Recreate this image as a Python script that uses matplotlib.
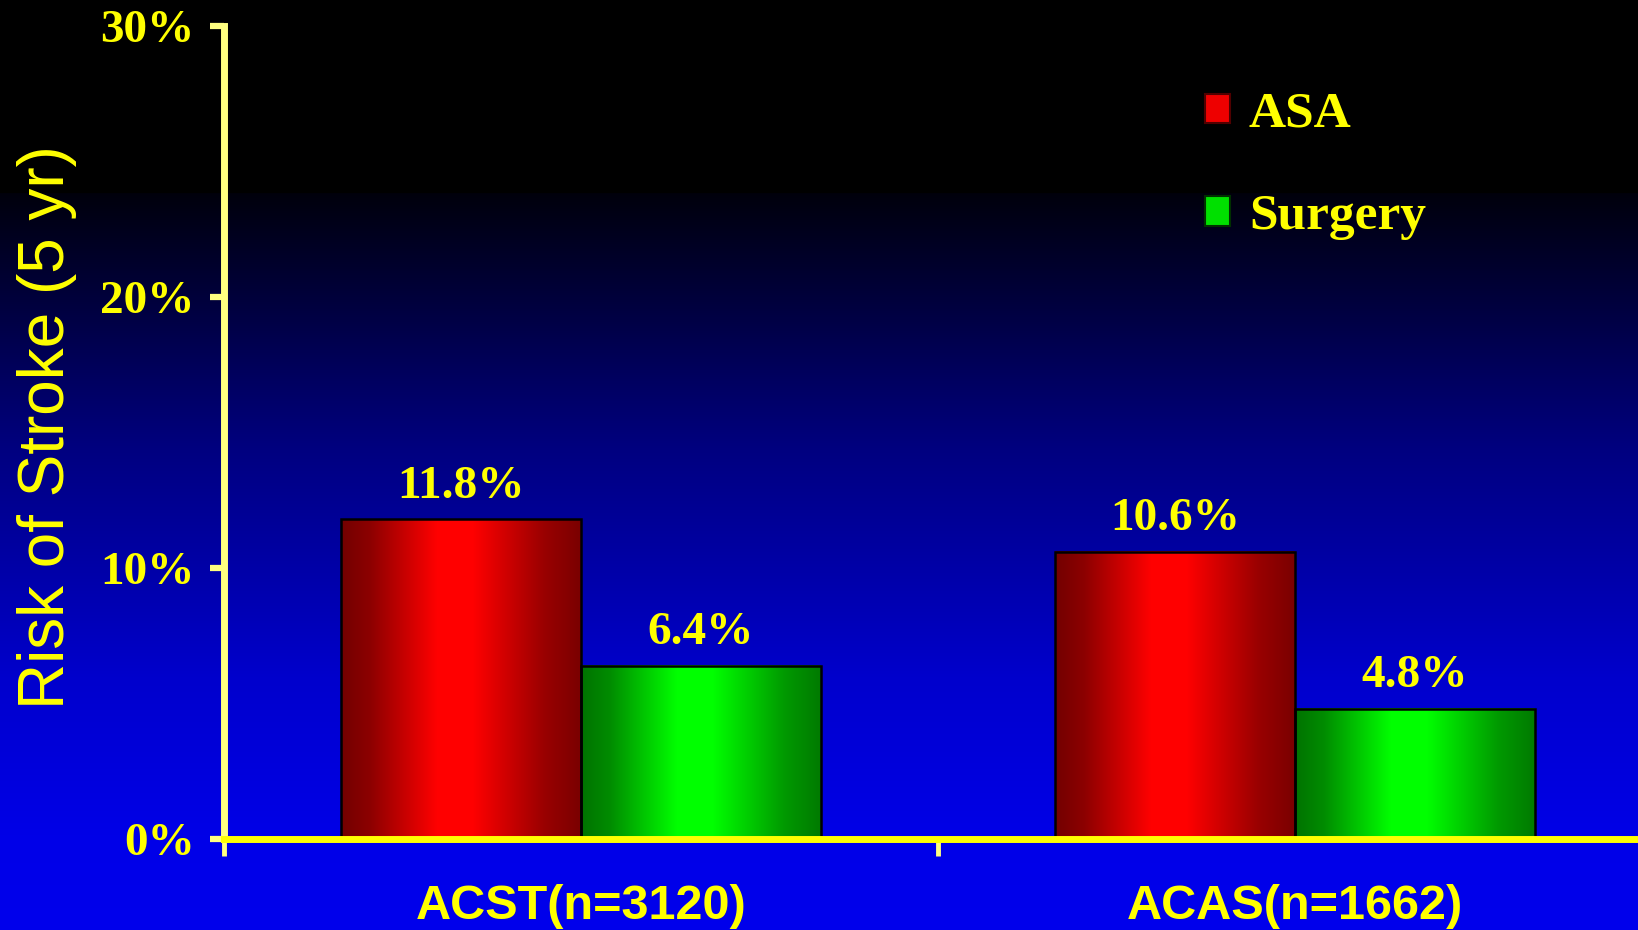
import numpy as np
import matplotlib.pyplot as plt
from matplotlib.patches import Rectangle
from matplotlib import font_manager

# data
studies = ['ACST(n=3120)', 'ACAS(n=1662)']
asa = [11.8, 10.6]
surgery = [6.4, 4.8]
series_names = ['ASA', 'Surgery']
yticks = [0, 10, 20, 30]

YELLOW = '#ffff00'
PALE = '#ffff80'

names = {f.name for f in font_manager.fontManager.ttflist}
narrow = 'Liberation Sans Narrow' if 'Liberation Sans Narrow' in names else 'Liberation Sans'
xl_size = 38 if narrow == 'Liberation Sans Narrow' else 35

W, H = 1638, 930
fig = plt.figure(figsize=(W / 100, H / 100), dpi=100)

# background: black band on top, then dark navy fading to blue
bg = fig.add_axes([0, 0, 1, 1], zorder=-10)
rows = np.arange(H)
blue = np.interp(rows, [0, 193, 194, 450, 680, 840, 930], [0, 0, 12, 128, 205, 232, 236])
img = np.zeros((H, 1, 3))
img[:, 0, 2] = blue / 255
bg.imshow(img, aspect='auto', extent=[0, 1, 1, 0])
bg.set_axis_off()

left, right = 224, 1652
y0, y30 = 839, 26
ax = fig.add_axes([left / W, (H - y0) / H, (right - left) / W, (y0 - y30) / H])
ax.set_facecolor('none')

x = np.arange(len(studies))
bw = 0.336


def shade(lo, hi):
    t = np.linspace(0, 1, 256)
    k = np.interp(t, [0, 0.12, 0.4, 0.55, 0.85, 1], [0.45, 0.55, 1.0, 1.0, 0.6, 0.48])
    g = np.zeros((1, 256, 3))
    for i in range(3):
        g[0, :, i] = lo[i] + (hi[i] - lo[i]) * k
    return g


grads = [shade((0, 0, 0), (1, 0, 0)), shade((0, 0, 0), (0, 1, 0))]
for j, vals in enumerate([asa, surgery]):
    bars = ax.bar(x + (j - 0.5) * bw, vals, bw, facecolor='none',
                  edgecolor='black', linewidth=1.8, zorder=3)
    for b, v in zip(bars, vals):
        ax.imshow(grads[j], aspect='auto', zorder=2,
                  extent=[b.get_x(), b.get_x() + b.get_width(), 0, b.get_height()])
        ax.text(b.get_x() + b.get_width() / 2, v + 1.2, f'{v}%', ha='center', va='center',
                color=YELLOW, fontsize=34, fontweight='bold', family='Liberation Serif')

ax.set_xlim(-0.5, len(studies) - 0.5)
ax.set_ylim(0, 30)
ax.set_yticks(yticks)
ax.set_yticklabels([f'{t}%' for t in yticks], color=YELLOW, fontsize=34,
                   fontweight='bold', family='Liberation Serif')
ax.set_xticks(np.arange(len(studies) + 1) - 0.5)
ax.set_xticklabels([])
ax.tick_params(axis='y', direction='out', length=10, width=4.5, color=PALE, pad=11)
ax.tick_params(axis='x', direction='out', length=12, width=3.5, color=PALE)
for s in ['top', 'right']:
    ax.spines[s].set_visible(False)
ax.spines['left'].set_color(PALE)
ax.spines['left'].set_linewidth(5)
ax.spines['bottom'].set_color(YELLOW)
ax.spines['bottom'].set_linewidth(5)
ax.spines['bottom'].set_zorder(4)

for xi, name in zip(x, studies):
    ax.text(xi, -0.083, name, transform=ax.get_xaxis_transform(), ha='center', va='center',
            color=YELLOW, fontsize=xl_size, fontweight='bold', family=narrow)

fig.text(47 / W, 1 - 427 / H, 'Risk of Stroke (5 yr)', rotation=90, ha='center', va='center',
         color=YELLOW, fontsize=46, family='Liberation Sans')

handles = [Rectangle((0, 0), 1, 1, facecolor='#ee0000', edgecolor='#500000', linewidth=1.5),
           Rectangle((0, 0), 1, 1, facecolor='#00e000', edgecolor='#003000', linewidth=1.5)]
leg = fig.legend(handles, series_names, loc='upper left', bbox_to_anchor=(1179 / W, 1 - 66 / H),
                 frameon=False, handlelength=0.5, handleheight=0.5, handletextpad=0.36,
                 labelspacing=1.1, borderpad=0,
                 prop={'family': 'Liberation Serif', 'weight': 'bold', 'size': 37})
for t in leg.get_texts():
    t.set_color(YELLOW)

fig.savefig('out.png', dpi=100)
